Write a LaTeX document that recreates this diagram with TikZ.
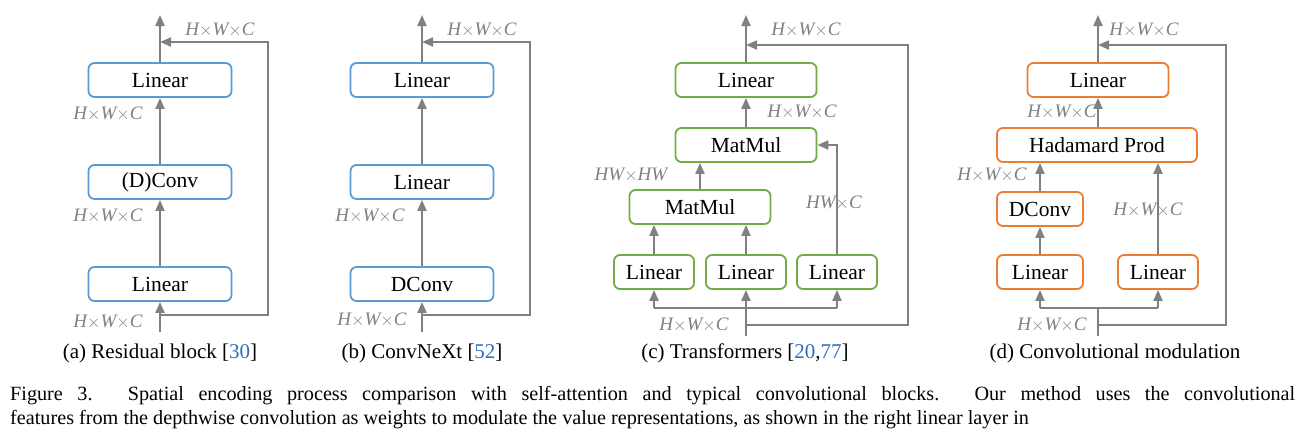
\documentclass[tikz,border=0pt]{standalone}
\usepackage{fontspec}
\setmainfont{Liberation Serif}
\usepackage{xcolor}
\usetikzlibrary{arrows.meta,positioning}
\definecolor{blk}{HTML}{5B9BD5}
\definecolor{grn}{HTML}{70AD47}
\definecolor{org}{HTML}{ED7D31}
\definecolor{arr}{HTML}{808080}
\definecolor{cite}{HTML}{2F6EBA}
\newcommand{\hwc}{H$\times$W$\times$C}

\begin{document}
\begin{tikzpicture}[x=1pt,y=-1pt,
    every node/.style={font=\fontsize{21.5}{23}\selectfont},
    box/.style={draw, line width=1.8pt, rounded corners=6pt, minimum height=34pt, inner sep=0pt},
    dim/.style={text=arr, font=\fontsize{19}{21}\selectfont\itshape, inner sep=0pt},
    flow/.style={draw=arr, line width=2pt, -{Triangle[length=11pt,width=9pt]}},
    wire/.style={draw=arr, line width=2pt},
    sub/.style={font=\fontsize{21}{23}\selectfont, inner sep=0pt}]
\useasboundingbox (0,0) rectangle (1304,442);

% (a) residual block
\node [box, draw=blk, minimum width=143pt] (a3) at (160,80) {Linear};
\node [box, draw=blk, minimum width=143pt] (a2) at (160,182) {(D)Conv};
\node [box, draw=blk, minimum width=143pt] (a1) at (160,284) {Linear};
\coordinate (ain) at (160,332);
\coordinate (aout) at (160,15);
\coordinate (ar1) at (268,315);
\coordinate (ar2) at (268,42);
\draw [flow] (ain) -- (a1);
\draw [flow] (a1) -- (a2);
\draw [flow] (a2) -- (a3);
\draw [flow] (a3) -- (aout);
\draw [flow] (ar1 -| ain) -- (ar1) -- (ar2) -- (ar2 -| aout);
\node [dim] at (220,30) {\hwc};
\node [dim] at (108,114) {\hwc};
\node [dim] at (108,216) {\hwc};
\node [dim] at (108,322) {\hwc};
\node [sub] at (160,353) {(a) Residual block [\textcolor{cite}{30}]};

% (b) ConvNeXt
\node [box, draw=blk, minimum width=143pt] (b3) at (422,80) {Linear};
\node [box, draw=blk, minimum width=143pt] (b2) at (422,182) {Linear};
\node [box, draw=blk, minimum width=143pt] (b1) at (422,284) {DConv};
\coordinate (bin) at (422,332);
\coordinate (bout) at (422,15);
\coordinate (br1) at (530,315);
\coordinate (br2) at (530,42);
\draw [flow] (bin) -- (b1);
\draw [flow] (b1) -- (b2);
\draw [flow] (b2) -- (b3);
\draw [flow] (b3) -- (bout);
\draw [flow] (br1 -| bin) -- (br1) -- (br2) -- (br2 -| bout);
\node [dim] at (482,30) {\hwc};
\node [dim] at (370,216) {\hwc};
\node [dim] at (372,320) {\hwc};
\node [sub] at (422,353) {(b) ConvNeXt [\textcolor{cite}{52}]};

% (c) Transformers
\node [box, draw=grn, minimum width=141pt] (c5) at (746,80) {Linear};
\node [box, draw=grn, minimum width=141pt] (c4) at (746,145) {MatMul};
\node [box, draw=grn, minimum width=141pt] (c3) at (700,207) {MatMul};
\node [box, draw=grn, minimum width=80pt] (cq) at (654,272) {Linear};
\node [box, draw=grn, minimum width=80pt] (ck) at (746,272) {Linear};
\node [box, draw=grn, minimum width=80pt] (cv) at (837,272) {Linear};
\coordinate (cin) at (746,336);
\coordinate (cout) at (746,15);
\coordinate (cs) at (746,308);
\coordinate (cr1) at (908,325);
\coordinate (cr2) at (908,45);
\draw [flow] (cin) -- (ck);
\draw [wire] (cs -| cq) -- (cs -| cv);
\draw [flow] (cs -| cq) -- (cq);
\draw [flow] (cs -| cv) -- (cv);
\draw [flow] (cq) -- (cq |- c3.south);
\draw [flow] (ck) -- (ck |- c3.south);
\draw [flow] (cv.north) |- (c4.east);
\draw [flow] (c3) -- (c3 |- c4.south);
\draw [flow] (c4) -- (c5);
\draw [flow] (c5) -- (cout);
\draw [flow] (cr1 -| cin) -- (cr1) -- (cr2) -- (cr2 -| cout);
\node [dim] at (806,30) {\hwc};
\node [dim] at (802,112) {\hwc};
\node [dim] at (631,175) {HW$\times$HW};
\node [dim] at (834,203) {HW$\times$C};
\node [dim] at (694,325) {\hwc};
\node [sub] at (745,353) {(c) Transformers [\textcolor{cite}{20},\textcolor{cite}{77}]};

% (d) Convolutional modulation
\node [box, draw=org, minimum width=141pt] (d4) at (1098,80) {Linear};
\node [box, draw=org, minimum width=200pt] (d3) at (1097,145) {Hadamard Prod};
\node [box, draw=org, minimum width=86pt] (d2) at (1040,209) {DConv};
\node [box, draw=org, minimum width=86pt] (da) at (1040,272) {Linear};
\node [box, draw=org, minimum width=80pt] (dv) at (1158,272) {Linear};
\coordinate (din) at (1098,336);
\coordinate (dout) at (1098,15);
\coordinate (ds) at (1098,308);
\coordinate (dr1) at (1226,325);
\coordinate (dr2) at (1226,45);
\draw [wire] (din) -- (ds);
\draw [wire] (ds -| da) -- (ds -| dv);
\draw [flow] (ds -| da) -- (da);
\draw [flow] (ds -| dv) -- (dv);
\draw [flow] (da) -- (d2);
\draw [flow] (d2) -- (d2 |- d3.south);
\draw [flow] (dv) -- (dv |- d3.south);
\draw [flow] (d3.north -| d4) -- (d4);
\draw [flow] (d4) -- (dout);
\draw [flow] (dr1 -| din) -- (dr1) -- (dr2) -- (dr2 -| dout);
\node [dim] at (1144,30) {\hwc};
\node [dim] at (1062,112) {\hwc};
\node [dim] at (992,175) {\hwc};
\node [dim] at (1148,210) {\hwc};
\node [dim] at (1052,325) {\hwc};
\node [sub] at (1115,353) {(d) Convolutional modulation};

\node [anchor=north west, inner sep=0pt, text width=1285pt, align=justify,
  font=\fontsize{20.2}{24.5}\selectfont] (cap) at (10,386)
  {Figure 3. Spatial encoding process comparison with self-attention and typical convolutional blocks. Our method uses the convolutional\linebreak features from the depthwise convolution as weights to modulate the value representations, as shown in the right linear layer in};
\end{tikzpicture}
\end{document}
